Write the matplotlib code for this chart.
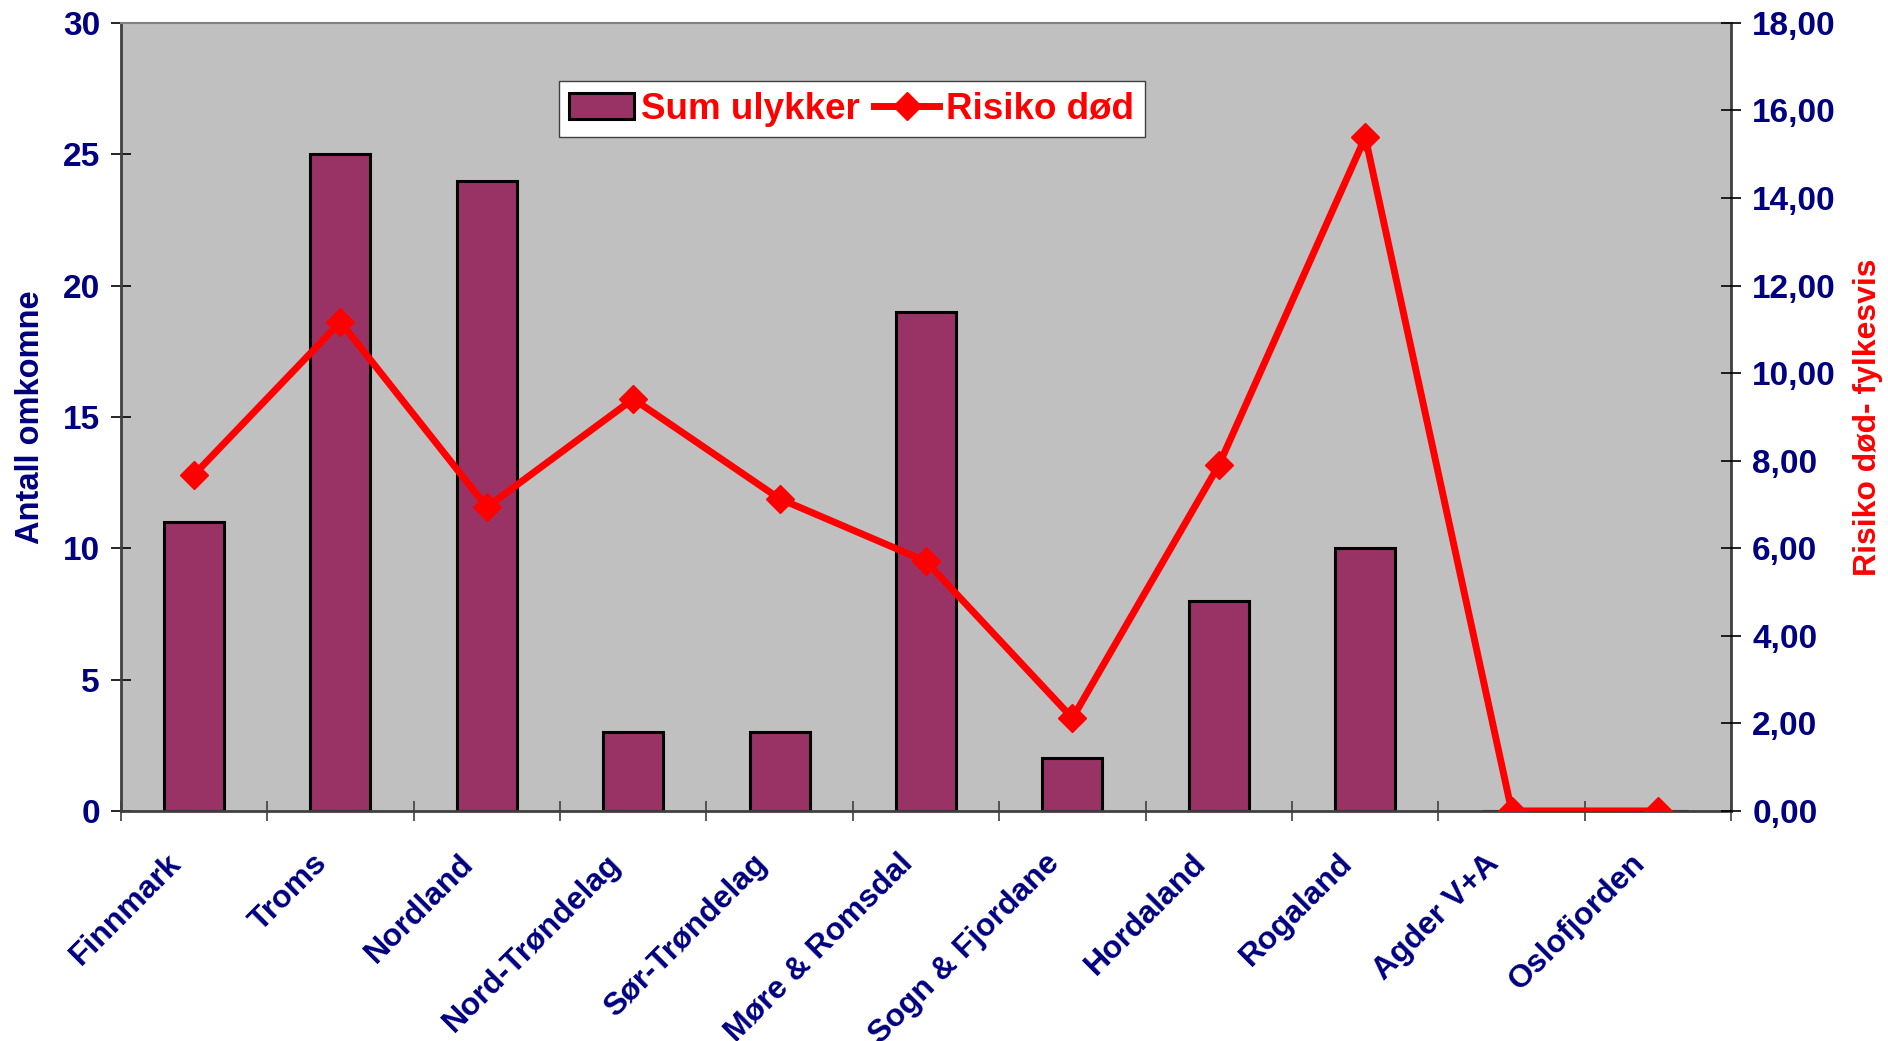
import numpy as np
import matplotlib
matplotlib.use("Agg")
from matplotlib import pyplot as plt
from matplotlib.transforms import ScaledTranslation

plt.rcParams['font.family'] = ['Liberation Sans', 'DejaVu Sans']
plt.rcParams['font.weight'] = 'bold'

# data
categories = ['Finnmark', 'Troms', 'Nordland', 'Nord-Trøndelag', 'Sør-Trøndelag',
              'Møre & Romsdal', 'Sogn & Fjordane', 'Hordaland', 'Rogaland',
              'Agder V+A', 'Oslofjorden']
sum_ulykker = [11, 25, 24, 3, 3, 19, 2, 8, 10, 0, 0]
risiko_dod = [7.68, 11.17, 6.94, 9.41, 7.13, 5.70, 2.12, 7.90, 15.39, 0.0, 0.0]
left_ticks = [0, 5, 10, 15, 20, 25, 30]
right_ticks = [0, 2, 4, 6, 8, 10, 12, 14, 16, 18]

navy = '#000080'
bar_col = '#993366'
bg = '#C0C0C0'

fig = plt.figure(figsize=(18.88, 10.41), dpi=100)
ax = fig.add_axes([0.064, 0.221, 0.853, 0.757])
ax.set_facecolor(bg)
x = np.arange(len(categories))

bars = ax.bar(x, sum_ulykker, width=0.41, color=bar_col, edgecolor='black',
              linewidth=2.2, label='Sum ulykker', zorder=2)
ax.set_xlim(-0.5, len(categories) - 0.5)
ax.set_ylim(0, 30)
ax.set_yticks(left_ticks)
ax.tick_params(axis='y', direction='inout', length=14, width=1.2, labelsize=24,
               labelcolor=navy, pad=8)
ax.set_ylabel('Antall omkomne', fontsize=23.5, color=navy, fontweight='bold', labelpad=12)

# category boundary ticks on x
ax.set_xticks(x)
ax.set_xticks(np.arange(len(categories) + 1) - 0.5, minor=True)
ax.tick_params(axis='x', which='major', length=0, labelsize=23, labelcolor=navy, pad=27)
ax.tick_params(axis='x', which='minor', direction='inout', length=14, width=1.2,
               color='#404040')
ax.set_xticklabels(categories, rotation=45, ha='right', rotation_mode='anchor')
for lbl in ax.get_xticklabels():
    lbl.set_transform(lbl.get_transform() + ScaledTranslation(-0.28, 0, fig.dpi_scale_trans))

for side in ['left', 'right', 'bottom']:
    ax.spines[side].set_color('#404040')
    ax.spines[side].set_linewidth(2)
ax.spines['top'].set_color('#808080')
ax.spines['top'].set_linewidth(1.5)

ax2 = ax.twinx()
line, = ax2.plot(x, risiko_dod, color='red', linewidth=5, marker='D', markersize=14,
                 label='Risiko død', zorder=3)
ax2.set_ylim(0, 18)
ax2.set_yticks(right_ticks)
ax2.set_yticklabels([f'{v:.2f}'.replace('.', ',') for v in right_ticks])
ax2.tick_params(axis='y', direction='inout', length=14, width=1.2, labelsize=24,
                labelcolor=navy, pad=8)
ax2.set_ylabel('Risiko død- fylkesvis', fontsize=23, color='red', fontweight='bold',
               labelpad=12)
for side in ['left', 'right', 'bottom', 'top']:
    ax2.spines[side].set_visible(False)

leg = ax2.legend([bars, line], ['Sum ulykker', 'Risiko død'], loc='upper left',
                 bbox_to_anchor=(0.272, 0.926), ncol=2, fontsize=26.5, frameon=True,
                 fancybox=False, edgecolor='#404040', framealpha=1,
                 handlelength=1.75, handletextpad=0.2, columnspacing=0.4,
                 borderpad=0.28, borderaxespad=0)
for t in leg.get_texts():
    t.set_color('red')
    t.set_fontweight('bold')

fig.savefig('out.png', dpi=100)
